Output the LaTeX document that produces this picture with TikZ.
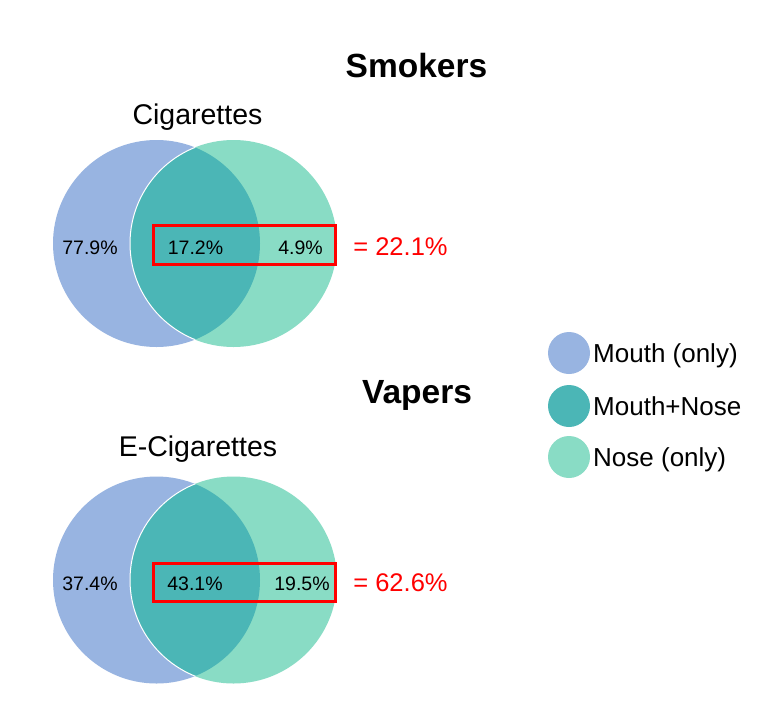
\documentclass[tikz,border=0pt]{standalone}
\usepackage{fontspec}
\setmainfont{Liberation Sans}
\definecolor{mouth}{HTML}{98B4E1}
\definecolor{both}{HTML}{4BB6B6}
\definecolor{nose}{HTML}{89DCC5}
\definecolor{redx}{HTML}{FF0000}
\tikzset{
  num/.style={font=\fontsize{19.5}{20}\selectfont, inner sep=0pt, anchor=base},
  total/.style={font=\fontsize{25.5}{26}\selectfont, text=redx, inner sep=0pt, anchor=base},
  title/.style={font=\fontsize{33.5}{34}\selectfont\bfseries, inner sep=0pt, anchor=base},
  sub/.style={font=\fontsize{28.5}{29}\selectfont, inner sep=0pt, anchor=base},
  leg/.style={font=\fontsize{26}{27}\selectfont, inner sep=0pt, anchor=base west},
  redbox/.style={draw=redx, line width=3.2pt},
  legdot/.style={circle, minimum size=42pt, inner sep=0pt}
}
\newcommand{\myvenn}[1]{%
  \fill[mouth] (156.5,#1) circle (103.5);
  \fill[nose] (233.5,#1) circle (103.5);
  \begin{scope}
    \clip (156.5,#1) circle (103.5);
    \fill[both] (233.5,#1) circle (103.5);
    \draw[white, line width=1pt] (233.5,#1) circle (103.5);
  \end{scope}
}
\begin{document}
\begin{tikzpicture}[x=1pt,y=-1pt]
\useasboundingbox (0,0) rectangle (775,715);
\fill[white] (0,0) rectangle (775,715);
% titles
\node[title] (t1) at (416.5,77) {Smokers};
\node[sub] (s1) at (197.5,124) {Cigarettes};
\node[title] (t2) at (417,403) {Vapers};
\node[sub] (s2) at (198,456) {E-Cigarettes};
% top venn
\myvenn{243.5}
\node[num] (a1) at (90,254) {77.9\%};
\node[num] (b1) at (195.5,254) {17.2\%};
\node[num] (c1) at (300.5,254) {4.9\%};
\draw[redbox] (153.6,225.6) rectangle (335.4,264.4);
\node[total] (d1) at (400.5,255) {= 22.1\%};
% bottom venn
\myvenn{580}
\node[num] (a2) at (90,590) {37.4\%};
\node[num] (b2) at (195,590) {43.1\%};
\node[num] (c2) at (302,590) {19.5\%};
\draw[redbox] (153.6,563.6) rectangle (335.4,601.4);
\node[total] (d2) at (400.5,591) {= 62.6\%};
% legend
\node[legdot, fill=mouth] (l1) at (569,353) {};
\node[legdot, fill=both] (l2) at (569,406) {};
\node[legdot, fill=nose] (l3) at (569,457) {};
\node[leg] (lt1) at (593,362.5) {Mouth (only)};
\node[leg] (lt2) at (593,415.5) {Mouth+Nose};
\node[leg] (lt3) at (593,466.5) {Nose (only)};
\end{tikzpicture}
\end{document}
